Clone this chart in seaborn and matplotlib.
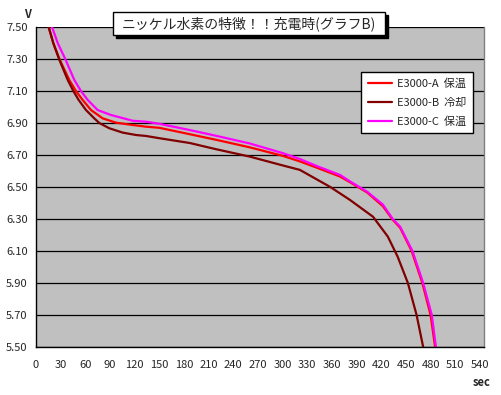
import matplotlib
matplotlib.use("Agg")
import matplotlib.pyplot as plt
from matplotlib.patches import Rectangle
import pandas as pd
import seaborn as sns

# series labels
series_names = ["E3000-A  保温", "E3000-B  冷却", "E3000-C  保温"]

# E3000-A (red)
sec_a = [11.6, 15.4, 21, 28.5, 40.5, 48.6, 56.8, 66.9, 81.1, 97.3, 117.6, 133.8, 150, 187,
         220, 260, 300, 321, 342, 370, 382, 403, 422, 434, 443, 457, 470, 480, 485.5]
volt_a = [7.5625, 7.50, 7.40, 7.30, 7.169, 7.10, 7.044, 6.981, 6.929, 6.902, 6.8875, 6.877,
          6.870, 6.83, 6.794, 6.748, 6.695, 6.66, 6.62, 6.565, 6.53, 6.465, 6.38, 6.295,
          6.245, 6.10, 5.90, 5.70, 5.50]

# E3000-B (dark red)
sec_b = [11.6, 15.4, 21, 28, 38.6, 45.4, 51.9, 60.8, 70.9, 77, 89.2, 105.4, 121.6, 133.8,
         150, 187, 220, 260, 300, 321, 358, 382, 410, 428, 440, 452.4, 463, 471]
volt_b = [7.5625, 7.50, 7.40, 7.30, 7.169, 7.10, 7.044, 6.981, 6.929, 6.90, 6.867, 6.84,
          6.825, 6.819, 6.805, 6.775, 6.735, 6.69, 6.635, 6.607, 6.50, 6.419, 6.314, 6.19,
          6.064, 5.90, 5.70, 5.50]

# E3000-C (magenta)
sec_c = [14.6, 19.5, 26.4, 35.6, 46.6, 54.7, 62.9, 75, 91.2, 117.6, 133.8, 150, 187, 220,
         260, 300, 321, 342, 370, 382, 403, 422, 434, 443, 458, 471, 481.5, 486.5]
volt_c = [7.5625, 7.50, 7.40, 7.30, 7.169, 7.10, 7.044, 6.981, 6.95, 6.914, 6.908, 6.895,
          6.856, 6.819, 6.772, 6.712, 6.675, 6.63, 6.575, 6.535, 6.47, 6.39, 6.30, 6.252,
          6.10, 5.90, 5.70, 5.50]

x_ticks = list(range(0, 541, 30))
y_ticks = [5.50, 5.70, 5.90, 6.10, 6.30, 6.50, 6.70, 6.90, 7.10, 7.30, 7.50]

df = pd.concat([
    pd.DataFrame({"sec": sec_a, "V": volt_a, "series": series_names[0]}),
    pd.DataFrame({"sec": sec_b, "V": volt_b, "series": series_names[1]}),
    pd.DataFrame({"sec": sec_c, "V": volt_c, "series": series_names[2]}),
])

sns.set_style("white")
plt.rcParams["font.family"] = ["Noto Sans CJK JP", "DejaVu Sans"]

W, H = 501, 395
fig = plt.figure(figsize=(W / 100, H / 100), dpi=100)
ax = fig.add_axes([36 / W, 1 - 347 / H, 448 / W, 320 / H])
ax.set_facecolor("#C0C0C0")

palette = {series_names[0]: "#FF0000", series_names[1]: "#800000", series_names[2]: "#FF00FF"}
sns.lineplot(data=df, x="sec", y="V", hue="series", palette=palette, sort=False,
             estimator=None, linewidth=1.6, ax=ax)

ax.set_xlim(0, 545)
ax.set_ylim(5.5, 7.5)
ax.set_xticks(x_ticks)
ax.set_yticks(y_ticks)
ax.set_yticklabels([f"{v:.2f}" for v in y_ticks], fontsize=8)
ax.set_xticklabels([str(v) for v in x_ticks], fontsize=8)
ax.tick_params(axis="x", direction="in", length=3, width=0.8, color="black", pad=9)
ax.tick_params(axis="y", length=0, pad=6)
ax.grid(axis="y", color="black", linewidth=0.9)
ax.set_axisbelow(True)
ax.set_xlabel("")
ax.set_ylabel("")

for side in ["left", "bottom"]:
    ax.spines[side].set_color("black")
    ax.spines[side].set_linewidth(1)
ax.spines["top"].set_visible(False)
ax.spines["right"].set_color("#808080")
ax.spines["right"].set_linewidth(1)

leg = ax.legend(loc="upper left", bbox_to_anchor=(361 / W, 1 - 72 / H),
                bbox_transform=fig.transFigure, borderaxespad=0, fontsize=8,
                frameon=True, fancybox=False, handlelength=2.2, handletextpad=0.4,
                labelspacing=0.75, borderpad=0.6)
leg.get_frame().set_edgecolor("black")
leg.get_frame().set_linewidth(1)
leg.get_frame().set_facecolor("white")
leg.get_frame().set_alpha(1)

# title box with drop shadow
fig.add_artist(Rectangle((116 / W, 1 - 38 / H), 272 / W, 23 / H, transform=fig.transFigure,
                         facecolor="black", edgecolor="black", zorder=5))
fig.add_artist(Rectangle((113 / W, 1 - 35 / H), 272 / W, 23 / H, transform=fig.transFigure,
                         facecolor="white", edgecolor="black", linewidth=1, zorder=6))
fig.text(249 / W, 1 - 23.5 / H, "ニッケル水素の特徴！！充電時(グラフB)", ha="center",
         va="center", fontsize=10, zorder=7)

fig.text(27 / W, 1 - 14 / H, "V", ha="center", va="center", fontsize=8, fontweight="bold")
fig.text(482 / W, 1 - 383 / H, "sec", ha="center", va="center", fontsize=8, fontweight="bold")

fig.savefig("out.png", dpi=100, facecolor="white")
